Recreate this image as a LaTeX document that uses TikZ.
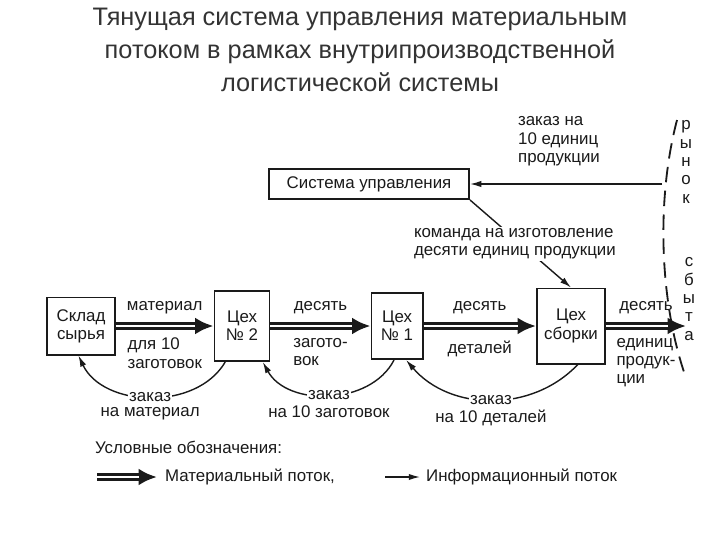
\documentclass[tikz,border=0pt]{standalone}
\usepackage{fontspec}
\setmainfont{Liberation Sans}
\usetikzlibrary{arrows.meta, positioning, calc}
\definecolor{cink}{HTML}{1A1A1A}
\definecolor{ctitle}{HTML}{333333}
\tikzset{
  every picture/.style={line width=1pt, draw=cink, text=cink},
  blk/.style={draw=cink, line width=1.4pt, fill=white, align=center, inner sep=2pt, font=\fontsize{12}{13}\selectfont},
  mat/.style={line width=5pt, -{Latex[length=13pt,width=12pt]}, postaction={draw=white, line width=2pt, shorten >=13pt, -}},
  info/.style={-{Latex[length=8pt,width=4.5pt]}, line width=1pt},
  lbl/.style={font=\fontsize{12}{13}\selectfont, align=left, inner sep=1pt},
  title/.style={font=\fontsize{18}{23.5}\selectfont, text=ctitle, align=center},
}
\begin{document}
\begin{tikzpicture}[x=0.025cm, y=-0.025cm]
  \useasboundingbox (0,0) rectangle (720,540);
  \node[title] (ttl) at (360,50) {Тянущая система управления материальным\\ потоком в рамках внутрипроизводственной\\ логистической системы};

  % boxes
  \node[blk, minimum width=5cm, minimum height=0.75cm] (sysupr) at (369,184) {Система управления};
  \node[blk, minimum width=1.7cm, minimum height=1.425cm] (sklad) at (81,326) {Склад\\ сырья};
  \node[blk, minimum width=1.375cm, minimum height=1.75cm] (tseh2) at (242,326) {Цех\\ № 2};
  \node[blk, minimum width=1.275cm, minimum height=1.65cm] (tseh1) at (397,326) {Цех\\ № 1};
  \node[blk, minimum width=1.7cm, minimum height=1.875cm] (sborka) at (571,326) {Цех\\ сборки};

  % market
  \coordinate (rynok) at (686,326);
  \coordinate (zakaz) at (662,184);
  \draw[line width=1.3pt, dash pattern=on 11pt off 6pt] (677,120) .. controls (656,200) and (660,300) .. (684,372);
  \node[lbl, align=center] (rn) at (686,162) {р\\ы\\н\\о\\к};
  \node[lbl, align=center] (sb) at (689,299) {с\\б\\ы\\т\\а};

  % material flow
  \draw[mat] (sklad) -- (tseh2)
    node[lbl, midway, above=5pt] (m1a) {материал}
    node[lbl, midway, below=5pt] (m1b) {для 10\\ заготовок};
  \draw[mat] (tseh2) -- (tseh1)
    node[lbl, midway, above=5pt] (m2a) {десять}
    node[lbl, midway, below=5pt] (m2b) {загото-\\ вок};
  \draw[mat] (tseh1) -- (sborka)
    node[lbl, midway, above=5pt] (m3a) {десять}
    node[lbl, midway, below=7pt] (m3b) {деталей};
  \draw[mat] (sborka) -- (rynok)
    node[lbl, midway, above=5pt] (m4a) {десять}
    node[lbl, midway, below=5pt] (m4b) {единиц\\ продук-\\ ции};

  % information flow
  \draw[info] (zakaz) -- (sysupr.east);
  \node[lbl, anchor=south west] (z0) at (516,168) {заказ на\\ 10 единиц\\ продукции};
  \draw[info] (sysupr.south east) -- (sborka.north)
    node[lbl, midway, fill=white, xshift=-4pt] (cmd) {команда на изготовление\\ десяти единиц продукции};

  \draw[info] (tseh2.-115) to[bend left=62] node[lbl, fill=white] (z1) {заказ} (sklad.-95);
  \node[lbl, below=1pt of z1] (z1b) {на материал};
  \draw[info] (tseh1.-95) to[bend left=62] node[lbl, fill=white] (z2) {заказ} (tseh2.-60);
  \node[lbl, below=1pt of z2] (z2b) {на 10 заготовок};
  \draw[info] (sborka.-80) to[bend left=48] node[lbl, fill=white] (z3) {заказ} (tseh1.-75);
  \node[lbl, below=1pt of z3] (z3b) {на 10 деталей};

  % legend
  \node[lbl, anchor=west] (leg) at (93,447) {Условные обозначения:};
  \coordinate (lm1) at (97,477);
  \coordinate (lm2) at (157,477);
  \draw[mat] (lm1) -- (lm2);
  \node[lbl, anchor=base west] (legm) at (163,481) {Материальный поток,};
  \coordinate (li1) at (385,477);
  \coordinate (li2) at (420,477);
  \draw[info] (li1) -- (li2);
  \node[lbl, anchor=base west] (legi) at (424,481) {Информационный поток};
\end{tikzpicture}
\end{document}
